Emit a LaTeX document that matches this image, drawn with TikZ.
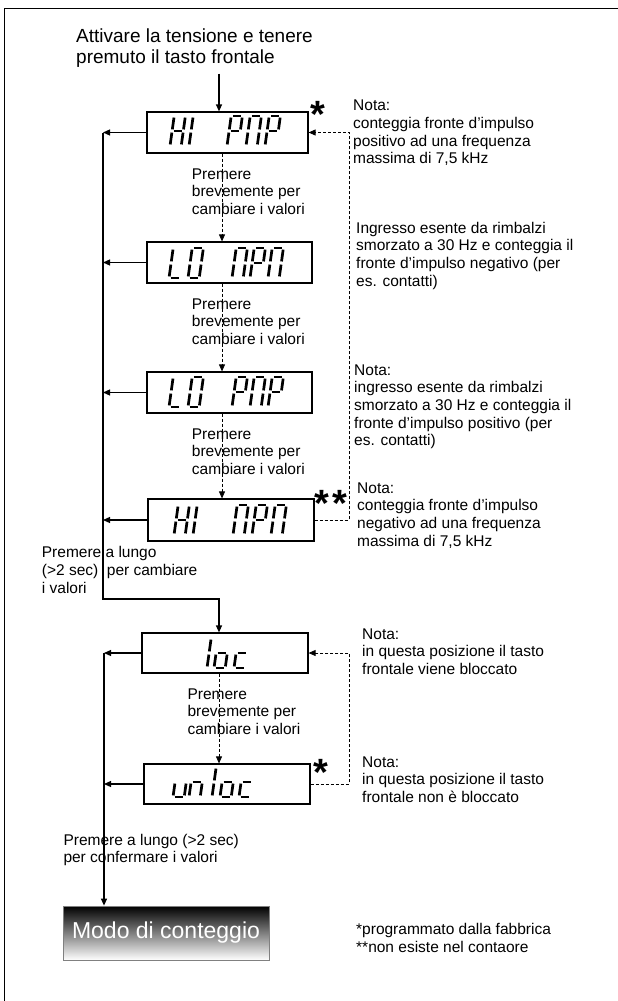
\documentclass[tikz,border=0pt]{standalone}
\usepackage{fontspec}
\setmainfont{Liberation Sans}
\usetikzlibrary{arrows.meta}
\newcommand\sgA{\draw[segline] (1.6,-30) -- (9.6,-30);}
\newcommand\sgB{\draw[segline] (11.2,-28.4) -- (11.2,-16.6);}
\newcommand\sgC{\draw[segline] (11.2,-13.4) -- (11.2,-1.6);}
\newcommand\sgD{\draw[segline] (1.6,0) -- (9.6,0);}
\newcommand\sgE{\draw[segline] (0,-1.6) -- (0,-13.4);}
\newcommand\sgF{\draw[segline] (0,-16.6) -- (0,-28.4);}
\newcommand\sgG{\draw[segline] (1.6,-15) -- (9.6,-15);}
\newcommand\glyph[3]{\begin{scope}[shift={(#1,#2)},xslant=0.14]#3\end{scope}}
\begin{document}
\begin{tikzpicture}[x=1pt,y=-1pt,
  segline/.style={line width=2.7pt,line cap=butt},
  txt/.style={anchor=base west,inner sep=0pt,align=left,font=\fontsize{15.5}{17.7}\selectfont},
  disp/.style={draw,line width=1.2pt,inner sep=0pt},
  ln/.style={line width=1.2pt},
  dsh/.style={line width=0.8pt,dash pattern=on 3pt off 2pt},
  tip/.style={-{Triangle[length=7pt,width=6pt]}},
  star/.style={anchor=base,inner sep=0pt,font=\fontsize{38}{38}\selectfont\bfseries}]
\useasboundingbox (0,0) rectangle (618,1001);
\fill[white] (0,0) rectangle (618,1001);
% frame
\draw[line width=1pt] (4.8,1001) -- (4.8,8.5) -- (618,8.5);

% title (anchor = baseline of last line)
\node[anchor=base west,inner sep=0pt,align=left,font=\fontsize{19}{21.5}\selectfont] (title) at (76,63.5) {Attivare la tensione e tenere\\premuto il tasto frontale};

% display boxes
\node[disp,minimum width=161pt,minimum height=41pt] (b1) at (227.5,132.5) {};
\node[disp,minimum width=165pt,minimum height=41pt] (b2) at (229.5,262.5) {};
\node[disp,minimum width=165pt,minimum height=41pt] (b3) at (229.5,392.5) {};
\node[disp,minimum width=166pt,minimum height=42pt] (b4) at (231,520) {};
\node[disp,minimum width=166pt,minimum height=40pt] (b5) at (225,653) {};
\node[disp,minimum width=166pt,minimum height=40pt] (b6) at (227,784) {};
\node[draw=gray,line width=0.8pt,top color=black,bottom color=white,minimum width=206pt,minimum height=54pt,inner sep=0pt,text=white,font=\fontsize{23}{23}\selectfont] (modo) at (166,933) {Modo di conteggio};

% segment glyphs
% HI PNP
\glyph{170}{146}{\sgB\sgC\sgE\sgF\sgG}
\glyph{189}{146}{\sgE\sgF}
\glyph{227}{146}{\sgA\sgB\sgE\sgF\sgG}
\glyph{246}{146}{\sgA\sgB\sgC\sgE\sgF}
\glyph{265}{146}{\sgA\sgB\sgE\sgF\sgG}
% LO NPN
\glyph{169}{278}{\sgD\sgE\sgF}
\glyph{188}{278}{\sgA\sgB\sgC\sgD\sgE\sgF}
\glyph{232}{278}{\sgA\sgB\sgC\sgE\sgF}
\glyph{250}{278}{\sgA\sgB\sgE\sgF\sgG}
\glyph{268}{278}{\sgA\sgB\sgC\sgE\sgF}
% LO PNP
\glyph{169}{407}{\sgD\sgE\sgF}
\glyph{188}{407}{\sgA\sgB\sgC\sgD\sgE\sgF}
\glyph{232}{407}{\sgA\sgB\sgE\sgF\sgG}
\glyph{250}{407}{\sgA\sgB\sgC\sgE\sgF}
\glyph{268}{407}{\sgA\sgB\sgE\sgF\sgG}
% HI NPN
\glyph{174}{535}{\sgB\sgC\sgE\sgF\sgG}
\glyph{193}{535}{\sgE\sgF}
\glyph{233}{535}{\sgA\sgB\sgC\sgE\sgF}
\glyph{252}{535}{\sgA\sgB\sgE\sgF\sgG}
\glyph{271}{535}{\sgA\sgB\sgC\sgE\sgF}
% loc
\glyph{207}{668}{\sgE\sgF}
\glyph{214}{668}{\sgC\sgD\sgE\sgG}
\glyph{234}{668}{\sgD\sgE\sgG}
% unloc
\glyph{173}{797}{\sgC\sgD\sgE}
\glyph{189}{797}{\sgC\sgE\sgG}
\glyph{212}{797}{\sgE\sgF}
\glyph{220}{797}{\sgC\sgD\sgE\sgG}
\glyph{239}{797}{\sgD\sgE\sgG}

% stars
\node[star] (s1) at (318,127) {*};
\node[star] (s4a) at (322,516) {*};
\node[star] (s4b) at (340,516) {*};
\node[star] (s6) at (321,785) {*};

% coordinates for connector lines
\coordinate (tin) at (219,0);
\coordinate (vl) at (103,0);
\coordinate (vb) at (103,599);
\coordinate (vt) at (219,599);
\coordinate (wl) at (104,0);
\coordinate (dx) at (222,0);
\coordinate (dy) at (219,0);
\coordinate (rx) at (349,0);

% solid connectors
\draw[ln,tip,shorten <=6pt] (title.south -| tin) -- (b1.north -| tin);
\draw[ln,tip] (b1.west) -- (b1.west -| vl);
\draw[ln,tip] (b2.west) -- (b2.west -| vl);
\draw[ln,tip] (b3.west) -- (b3.west -| vl);
\draw[ln,tip] (b4.west) -- (b4.west -| vl);
\draw[ln,tip] (b1.west -| vl) -- (vb) -- (vt) -- (b5.north -| vt);
\draw[ln,tip] (b5.west) -- (b5.west -| wl);
\draw[ln,tip] (b6.west) -- (b6.west -| wl);
\draw[ln,tip] (b5.west -| wl) -- (modo.north -| wl);

% dashed connectors
\draw[dsh,tip] (b1.south -| dx) -- (b2.north -| dx);
\draw[dsh,tip] (b2.south -| dx) -- (b3.north -| dx);
\draw[dsh,tip] (b3.south -| dx) -- (b4.north -| dx);
\draw[dsh,tip] (b5.south -| dy) -- (b6.north -| dy);
\draw[dsh,tip] (b4.east) -- (b4.east -| rx) -- (b1.east -| rx) -- (b1.east);
\draw[dsh,tip] (b6.east) -- (b6.east -| rx) -- (b5.east -| rx) -- (b5.east);

% labels (anchor = baseline of last line)
\node[txt] (p1) at (191.7,214.4) {Premere\\brevemente per\\cambiare i valori};
\node[txt] (p2) at (191.7,344.4) {Premere\\brevemente per\\cambiare i valori};
\node[txt] (p3) at (191.7,474.4) {Premere\\brevemente per\\cambiare i valori};
\node[txt] (p5) at (187.3,734.4) {Premere\\brevemente per\\cambiare i valori};
\node[txt] (lg1) at (41.7,593) {Premere a lungo\\(>2 sec)\ \ per cambiare\\i valori};
\node[txt] (lg2) at (63.3,862.7) {Premere a lungo (>2 sec)\\per confermare i valori};

% notes
\node[txt] (n1) at (353,163.8) {Nota:\\conteggia fronte d'impulso\\positivo ad una frequenza\\massima di 7,5 kHz};
\node[txt] (n2) at (356,286.1) {Ingresso esente da rimbalzi\\smorzato a 30 Hz e conteggia il\\fronte d'impulso negativo (per\\es. contatti)};
\node[txt] (n3) at (354,445.8) {Nota:\\ingresso esente da rimbalzi\\smorzato a 30 Hz e conteggia il\\fronte d'impulso positivo (per\\es. contatti)};
\node[txt] (n4) at (357,546.1) {Nota:\\conteggia fronte d'impulso\\negativo ad una frequenza\\massima di 7,5 kHz};
\node[txt] (n5) at (362,674.4) {Nota:\\in questa posizione il tasto\\frontale viene bloccato};
\node[txt] (n6) at (362,802.4) {Nota:\\in questa posizione il tasto\\frontale non è bloccato};
\node[txt] (fn) at (356,952) {*programmato dalla fabbrica\\**non esiste nel contaore};
\end{tikzpicture}
\end{document}
